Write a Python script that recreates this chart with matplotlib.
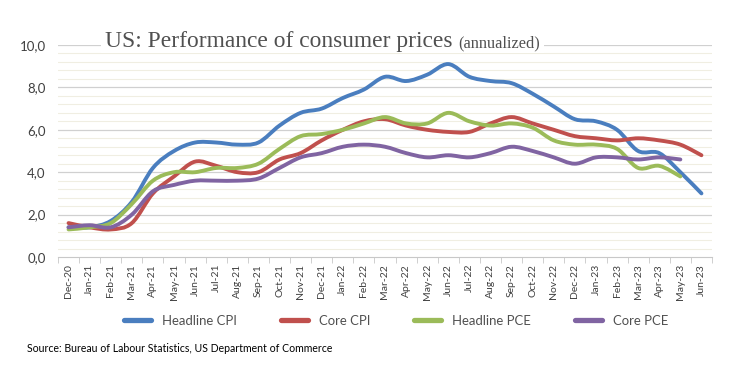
import numpy as np
import matplotlib
matplotlib.use("Agg")
import matplotlib.pyplot as plt
from matplotlib.path import Path
from matplotlib.patches import PathPatch, Rectangle
from matplotlib.lines import Line2D

months = ["Dec-20", "Jan-21", "Feb-21", "Mar-21", "Apr-21", "May-21", "Jun-21", "Jul-21",
          "Aug-21", "Sep-21", "Oct-21", "Nov-21", "Dec-21", "Jan-22", "Feb-22", "Mar-22",
          "Apr-22", "May-22", "Jun-22", "Jul-22", "Aug-22", "Sep-22", "Oct-22", "Nov-22",
          "Dec-22", "Jan-23", "Feb-23", "Mar-23", "Apr-23", "May-23", "Jun-23"]

headline_cpi = [1.4, 1.4, 1.7, 2.6, 4.2, 5.0, 5.4, 5.4, 5.3, 5.4, 6.2, 6.8, 7.0, 7.5, 7.9, 8.5,
                8.3, 8.6, 9.1, 8.5, 8.3, 8.2, 7.7, 7.1, 6.5, 6.4, 6.0, 5.0, 4.9, 4.0, 3.0]
core_cpi = [1.6, 1.4, 1.3, 1.6, 3.0, 3.8, 4.5, 4.3, 4.0, 4.0, 4.6, 4.9, 5.5, 6.0, 6.4, 6.5,
            6.2, 6.0, 5.9, 5.9, 6.3, 6.6, 6.3, 6.0, 5.7, 5.6, 5.5, 5.6, 5.5, 5.3, 4.8]
headline_pce = [1.3, 1.4, 1.6, 2.5, 3.6, 4.0, 4.0, 4.2, 4.2, 4.4, 5.1, 5.7, 5.8, 6.0, 6.3, 6.6,
                6.3, 6.3, 6.8, 6.4, 6.2, 6.3, 6.1, 5.5, 5.3, 5.3, 5.1, 4.2, 4.3, 3.8]
core_pce = [1.4, 1.5, 1.4, 2.0, 3.1, 3.4, 3.6, 3.6, 3.6, 3.7, 4.2, 4.7, 4.9, 5.2, 5.3, 5.2,
            4.9, 4.7, 4.8, 4.7, 4.9, 5.2, 5.0, 4.7, 4.4, 4.7, 4.7, 4.6, 4.7, 4.6]

series = [("Headline CPI", headline_cpi, "#4A7EBF"),
          ("Core CPI", core_cpi, "#C0504D"),
          ("Headline PCE", headline_pce, "#9BBB59"),
          ("Core PCE", core_pce, "#8064A2")]

plt.rcParams["font.family"] = ["Liberation Sans Narrow", "Lato", "DejaVu Sans"]
W, H = 741, 365


def smooth_path(y):
    # excel-like smoothed line: cubic bezier segments through the data points
    x = np.arange(len(y), dtype=float)
    y = np.asarray(y, dtype=float)
    verts = [(x[0], y[0])]
    codes = [Path.MOVETO]
    n = len(y)
    for i in range(n - 1):
        p0 = (x[max(i - 1, 0)], y[max(i - 1, 0)])
        p1 = (x[i], y[i])
        p2 = (x[i + 1], y[i + 1])
        p3 = (x[min(i + 2, n - 1)], y[min(i + 2, n - 1)])
        c1 = (p1[0] + (p2[0] - p0[0]) / 6, p1[1] + (p2[1] - p0[1]) / 6)
        c2 = (p2[0] - (p3[0] - p1[0]) / 6, p2[1] - (p3[1] - p1[1]) / 6)
        verts += [c1, c2, p2]
        codes += [Path.CURVE4] * 3
    return Path(verts, codes)


def fit_width(txt, target_px):
    # shrink/grow font so the text spans target_px
    fig.canvas.draw()
    w = txt.get_window_extent().width
    txt.set_fontsize(txt.get_fontsize() * target_px / w)


fig = plt.figure(figsize=(W / 100, H / 100), dpi=100)
ax = fig.add_axes([58 / W, 1 - 257 / H, (712 - 58) / W, (257 - 45) / H])

for name, vals, col in series:
    ax.add_patch(PathPatch(smooth_path(vals), facecolor="none", edgecolor=col,
                           lw=2.8, capstyle="round", joinstyle="round", zorder=3))

ax.set_xlim(-0.5, len(months) - 0.5)
ax.set_ylim(0, 10)

# gridlines
for v in np.arange(0.4, 10, 0.4):
    if abs(v / 2 - round(v / 2)) > 1e-6:
        ax.axhline(v, color="#F0EEE2", lw=0.8, zorder=1)
for v in [2, 4, 6, 8, 10]:
    ax.axhline(v, color="#D0D0D0", lw=0.9, zorder=1)

ax.set_yticks([0, 2, 4, 6, 8, 10])
ax.set_yticklabels(["0,0", "2,0", "4,0", "6,0", "8,0", "10,0"], fontsize=9.5, color="#404040")
ax.tick_params(axis="y", length=0, pad=9)

ax.set_xticks(np.arange(len(months)))
ax.set_xticklabels(months, rotation=90, fontsize=7.5, color="#404040")
ax.set_xticks(np.arange(-0.5, len(months), 1), minor=True)
ax.tick_params(axis="x", which="major", length=0, pad=5)
ax.tick_params(axis="x", which="minor", length=4, color="#C8C8C8")

for s in ["top", "right", "left"]:
    ax.spines[s].set_visible(False)
ax.spines["bottom"].set_color("#C8C8C8")

# title
t = fig.text(105 / W, 1 - 42 / H, "US: Performance of consumer prices",
             family=["Liberation Serif"], fontsize=17, color="#505050", va="center")
fit_width(t, 348)
bb = t.get_window_extent()
t2 = fig.text(458 / W, 1 - 43 / H, "(annualized)", family=["Liberation Serif"],
              fontsize=11, color="#505050", va="center")
fit_width(t2, 82)
bb2 = t2.get_window_extent()
fig.patches.append(Rectangle((bb.x0 / W - 0.006, bb.y0 / H), (bb2.x1 - bb.x0) / W + 0.012,
                             (bb.y1 - bb.y0) / H, transform=fig.transFigure,
                             facecolor="white", edgecolor="none", zorder=0.5))

# legend font sized so "Headline CPI" spans ~75 px
probe = fig.text(0, 0, "Headline CPI", fontsize=10)
fit_width(probe, 75)
lfs = probe.get_fontsize()
probe.remove()
fpx = lfs * 100 / 72

handles = [Line2D([], [], color=c, lw=3.8, solid_capstyle="round") for _, _, c in series]
leg = fig.legend(handles, [n for n, _, _ in series], loc="center", ncol=4,
                 bbox_to_anchor=(396 / W, 1 - 321 / H), frameon=False, fontsize=lfs,
                 handlelength=27 / fpx, columnspacing=44 / fpx, handletextpad=11 / fpx,
                 labelcolor="#505050")

src = fig.text(27 / W, 1 - 348 / H,
               "Source: Bureau of Labour Statistics, US Department of Commerce",
               fontsize=6.5, va="center", color="black")
fit_width(src, 303)

fig.savefig("out.png", dpi=100)
